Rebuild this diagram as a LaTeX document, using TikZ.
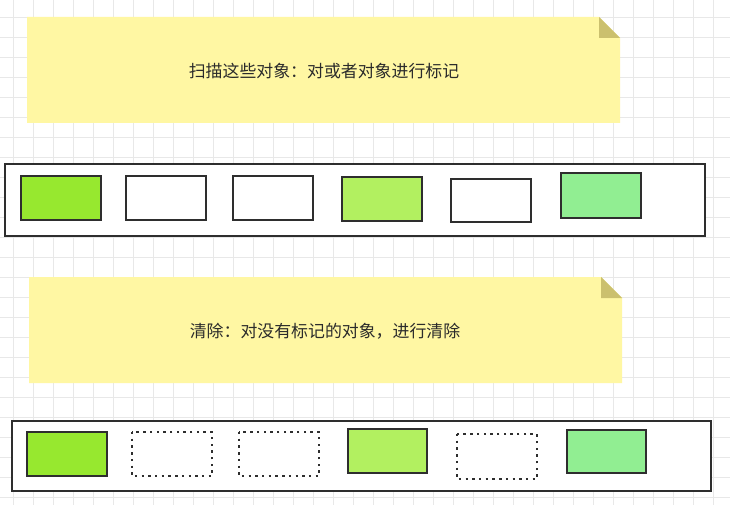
\documentclass[tikz,border=0pt]{standalone}
\usepackage{fontspec}
\newfontfamily\cjk{Noto Sans CJK SC}
\definecolor{gridc}{HTML}{E8E8E8}
\definecolor{notey}{HTML}{FFF7A3}
\definecolor{foldc}{HTML}{CBC06E}
\definecolor{edgec}{HTML}{2E2E2E}
\definecolor{gA}{HTML}{97E82F}
\definecolor{gB}{HTML}{B2F060}
\definecolor{gC}{HTML}{91EE92}
\definecolor{txt}{HTML}{2B2B2B}
\tikzset{
  objbox/.style={draw=edgec, line width=2pt, fill=white},
  gonebox/.style={draw=edgec, line width=2.2pt, dash pattern=on 2.4pt off 4.3pt},
  rowbox/.style={draw=edgec, line width=2pt, fill=white},
  notetext/.style={text=txt, font=\cjk\fontsize{16.9}{20}\selectfont, anchor=center}
}
\begin{document}
\begin{tikzpicture}[x=1pt,y=-1pt]
\useasboundingbox (0,0) rectangle (730,505);
\fill[white] (0,0) rectangle (730,505);
% grid
\foreach \gx in {13,33,...,733} \draw[gridc, line width=0.8pt] (\gx,0) -- (\gx,505);
\foreach \gy in {17,37,...,505} \draw[gridc, line width=0.8pt] (0,\gy) -- (730,\gy);
% note 1
\fill[notey] (27,17) -- (599,17) -- (620,38) -- (620,123) -- (27,123) -- cycle;
\fill[foldc] (599,17) -- (620,38) -- (599,38) -- cycle;
\node[notetext] (t1) at (324,71) {扫描这些对象：对或者对象进行标记};
% row 1
\draw[rowbox] (5,164) rectangle (705,236);
\draw[objbox, fill=gA] (21,176) rectangle (101,220);
\draw[objbox] (126,176) rectangle (206,220);
\draw[objbox] (233,176) rectangle (313,220);
\draw[objbox, fill=gB] (342,177) rectangle (422,221);
\draw[objbox] (451,179) rectangle (531,222);
\draw[objbox, fill=gC] (561,173) rectangle (641,218);
% note 2
\fill[notey] (29,277) -- (601,277) -- (622,298) -- (622,383) -- (29,383) -- cycle;
\fill[foldc] (601,277) -- (622,298) -- (601,298) -- cycle;
\node[notetext] (t2) at (325,331) {清除：对没有标记的对象，进行清除};
% row 2
\draw[rowbox] (12,421) rectangle (711,491);
\draw[objbox, fill=gA] (27,432) rectangle (107,476);
\draw[gonebox] (132,432) rectangle (212,476);
\draw[gonebox] (239,432) rectangle (319,476);
\draw[objbox, fill=gB] (348,429) rectangle (427,473);
\draw[gonebox] (457,434) rectangle (537,479);
\draw[objbox, fill=gC] (567,430) rectangle (646,473);
\end{tikzpicture}
\end{document}
